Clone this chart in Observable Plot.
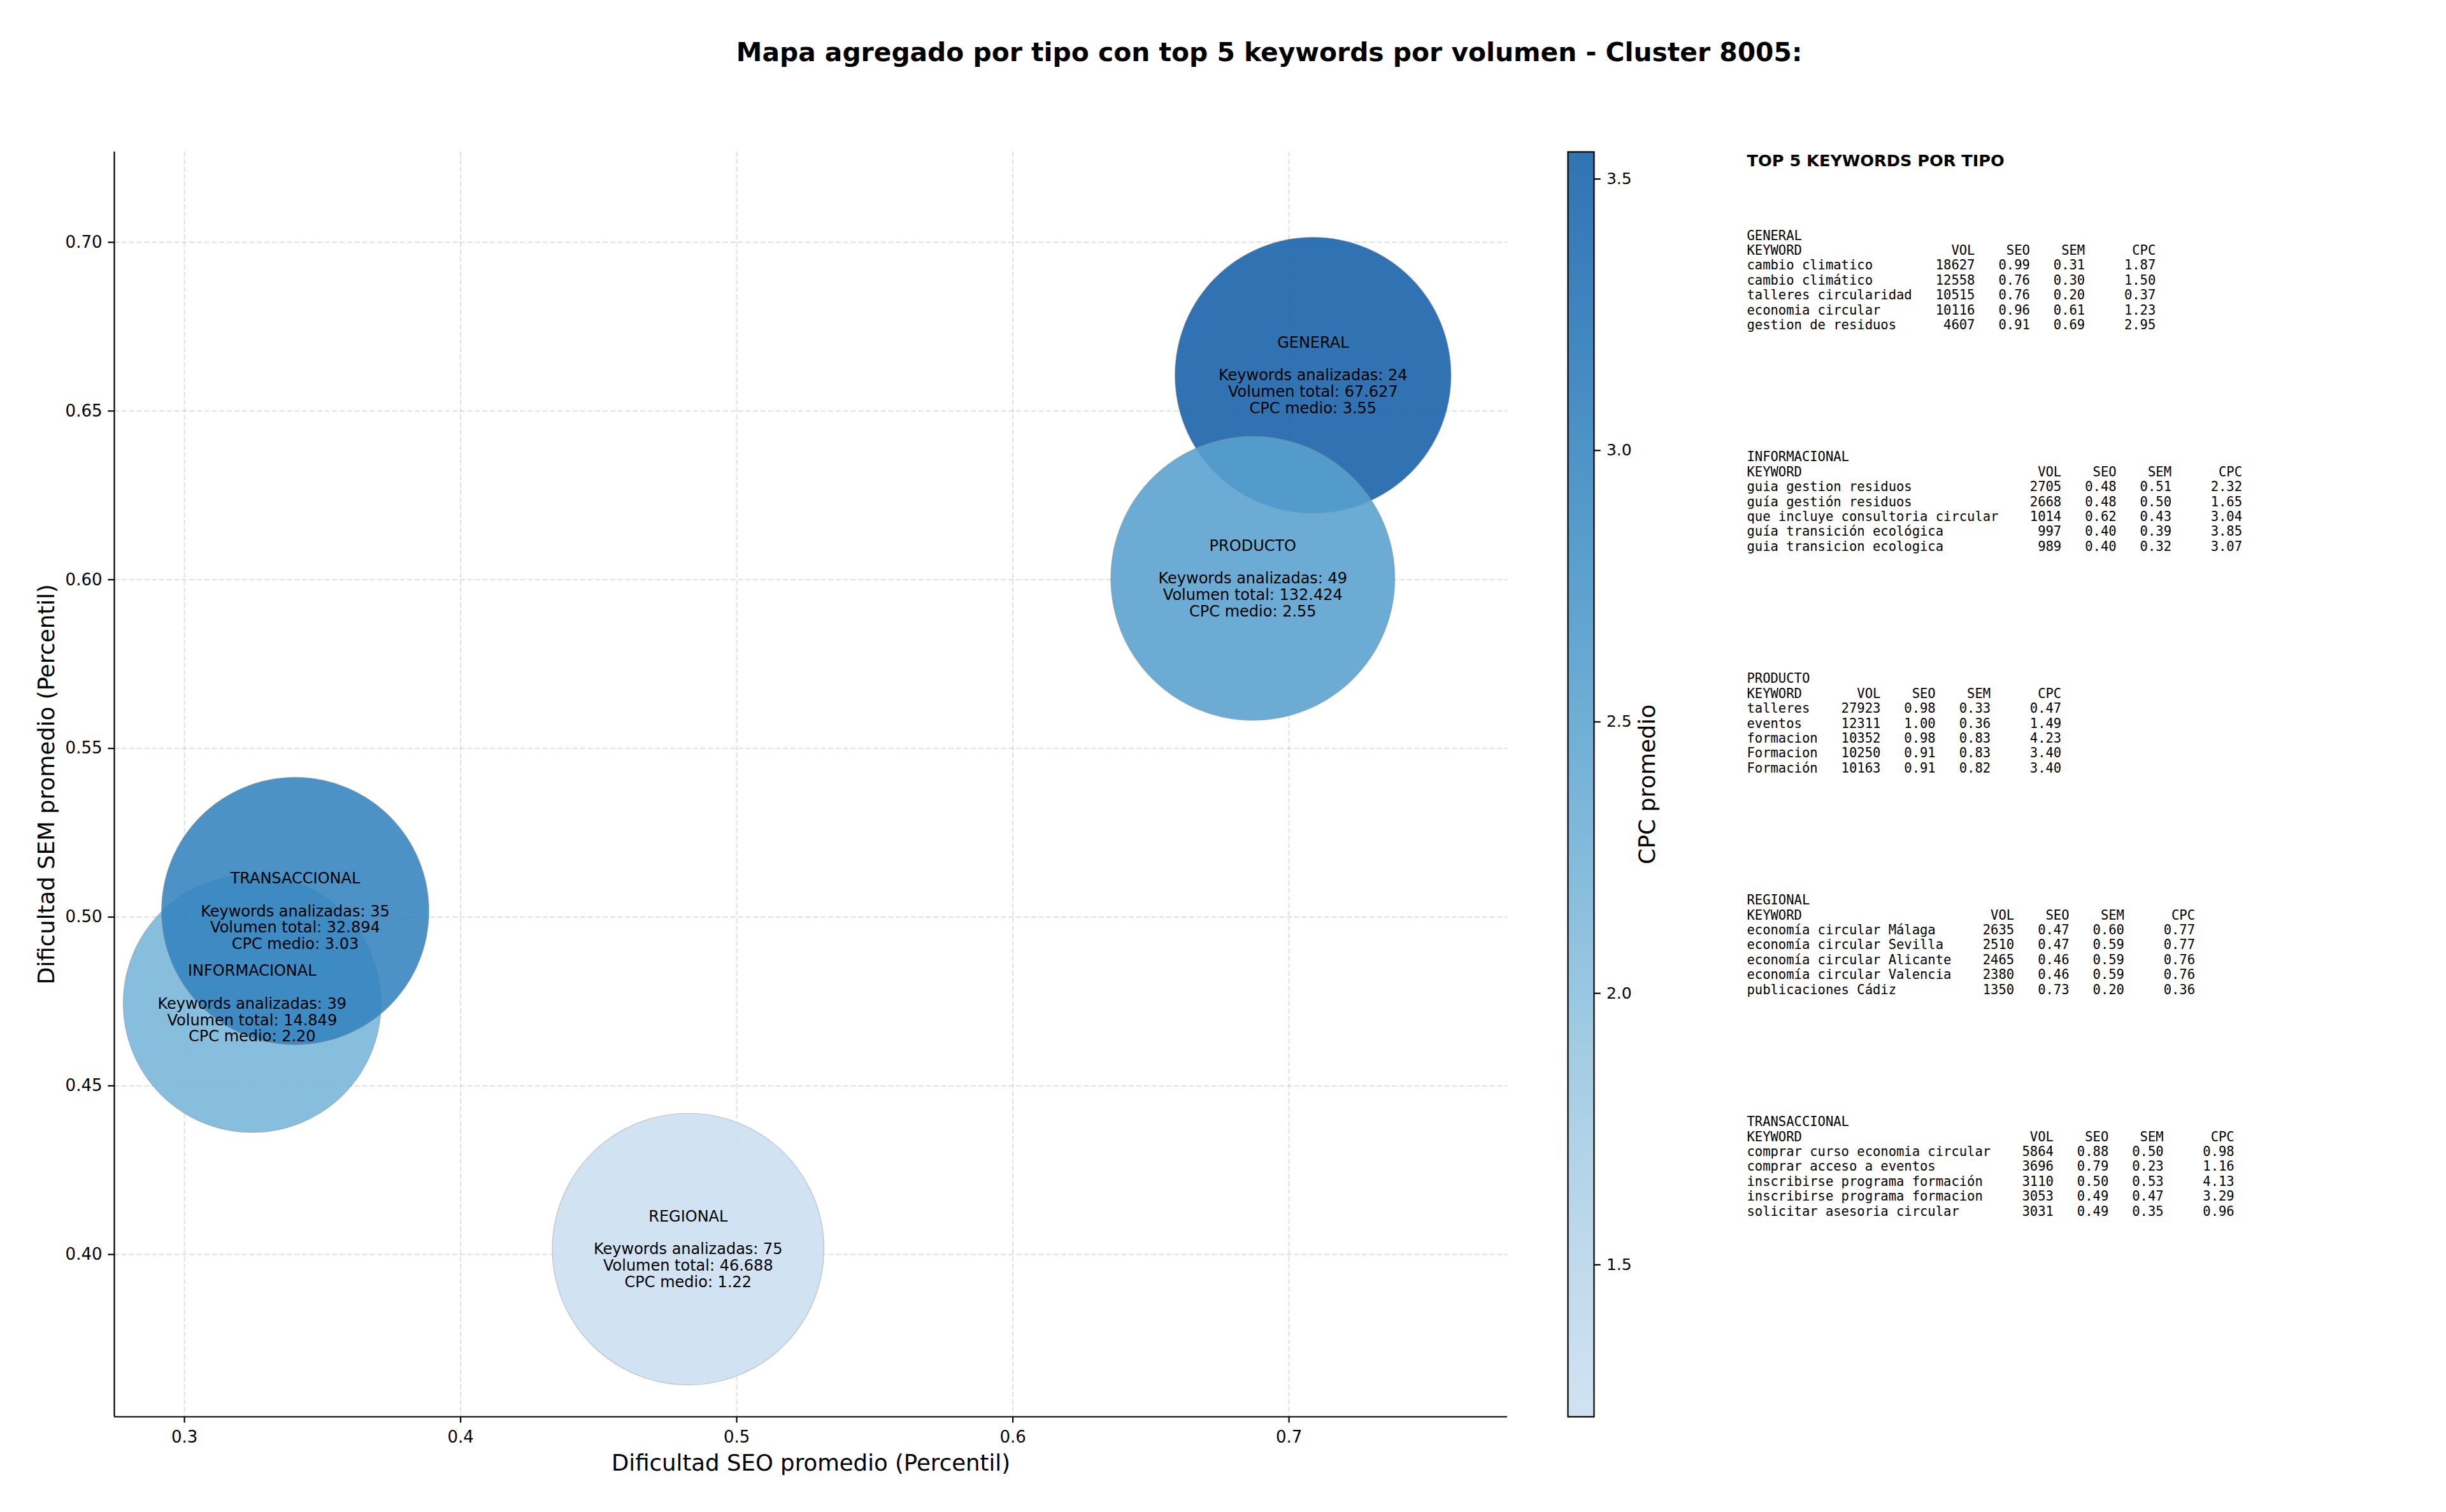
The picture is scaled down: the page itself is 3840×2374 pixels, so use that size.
<!DOCTYPE html>
<html>
<head>
<meta charset="utf-8">
<script src="https://cdn.jsdelivr.net/npm/d3@7"></script>
<script src="https://cdn.jsdelivr.net/npm/@observablehq/plot@0.6"></script>
<style>
  html, body { margin: 0; padding: 0; background: #ffffff; }
  #wrap { position: relative; width: 3840px; height: 2374px; background: #ffffff; overflow: hidden; }
  #wrap svg { position: absolute; top: 0; overflow: visible; }
  svg text, svg tspan { white-space: pre; }
</style>
</head>
<body>
<div id="wrap"></div>
<script>
// ---------- data ----------
const tipos      = ["GENERAL", "INFORMACIONAL", "PRODUCTO", "REGIONAL", "TRANSACCIONAL"];
const seoProm    = [0.7087, 0.3245, 0.6869, 0.4824, 0.3401];
const semProm    = [0.6606, 0.4744, 0.6004, 0.4016, 0.5018];
const cpcMedio   = [3.55, 2.20, 2.55, 1.22, 3.03];
const volTotal   = [67627, 14849, 132424, 46688, 32894];
const nKeywords  = [24, 39, 49, 75, 35];

const xTicks  = [0.3, 0.4, 0.5, 0.6, 0.7];
const yTicks  = [0.40, 0.45, 0.50, 0.55, 0.60, 0.65, 0.70];
const cbTicks = [1.5, 2.0, 2.5, 3.0, 3.5];

const topGeneral = [
  ["cambio climatico", 18627, 0.99, 0.31, 1.87],
  ["cambio climático", 12558, 0.76, 0.30, 1.50],
  ["talleres circularidad", 10515, 0.76, 0.20, 0.37],
  ["economia circular", 10116, 0.96, 0.61, 1.23],
  ["gestion de residuos", 4607, 0.91, 0.69, 2.95]
];
const topInformacional = [
  ["guia gestion residuos", 2705, 0.48, 0.51, 2.32],
  ["guía gestión residuos", 2668, 0.48, 0.50, 1.65],
  ["que incluye consultoria circular", 1014, 0.62, 0.43, 3.04],
  ["guía transición ecológica", 997, 0.40, 0.39, 3.85],
  ["guia transicion ecologica", 989, 0.40, 0.32, 3.07]
];
const topProducto = [
  ["talleres", 27923, 0.98, 0.33, 0.47],
  ["eventos", 12311, 1.00, 0.36, 1.49],
  ["formacion", 10352, 0.98, 0.83, 4.23],
  ["Formacion", 10250, 0.91, 0.83, 3.40],
  ["Formación", 10163, 0.91, 0.82, 3.40]
];
const topRegional = [
  ["economía circular Málaga", 2635, 0.47, 0.60, 0.77],
  ["economía circular Sevilla", 2510, 0.47, 0.59, 0.77],
  ["economía circular Alicante", 2465, 0.46, 0.59, 0.76],
  ["economía circular Valencia", 2380, 0.46, 0.59, 0.76],
  ["publicaciones Cádiz", 1350, 0.73, 0.20, 0.36]
];
const topTransaccional = [
  ["comprar curso economia circular", 5864, 0.88, 0.50, 0.98],
  ["comprar acceso a eventos", 3696, 0.79, 0.23, 1.16],
  ["inscribirse programa formación", 3110, 0.50, 0.53, 4.13],
  ["inscribirse programa formacion", 3053, 0.49, 0.47, 3.29],
  ["solicitar asesoria circular", 3031, 0.49, 0.35, 0.96]
];
const tablas = [topGeneral, topInformacional, topProducto, topRegional, topTransaccional];

const titulo = "Mapa agregado por tipo con top 5 keywords por volumen - Cluster 8005:";
const xLabel = "Dificultad SEO promedio (Percentil)";
const yLabel = "Dificultad SEM promedio (Percentil)";
const cLabel = "CPC promedio";
const panelTitulo = "TOP 5 KEYWORDS POR TIPO";

// ---------- derived ----------
const es = d3.formatLocale({decimal: ",", thousands: ".", grouping: [3], currency: ["", "€"]});
const fmtVol = es.format(",d");
const bubbles = tipos.map((t, i) => ({
  tipo: t, seo: seoProm[i], sem: semProm[i], cpc: cpcMedio[i], vol: volTotal[i], n: nKeywords[i],
  label: `${t}\n\nKeywords analizadas: ${nKeywords[i]}\nVolumen total: ${fmtVol(volTotal[i])}\nCPC medio: ${cpcMedio[i].toFixed(2)}`
}));

function blockText(tipo, rows) {
  const L = Math.max(7, ...rows.map(r => r[0].length));
  const line = (a, b, c, d, e) => a.padEnd(L) + b.padStart(8) + c.padStart(7) + d.padStart(7) + e.padStart(9);
  const out = [tipo, line("KEYWORD", "VOL", "SEO", "SEM", "CPC")];
  for (const r of rows) out.push(line(r[0], String(r[1]), r[2].toFixed(2), r[3].toFixed(2), r[4].toFixed(2)));
  return out.join("\n");
}

// ---------- layout (pixels) ----------
const W = 3840, H = 2374;
const fL = 179, fR = 2366, fT = 238, fB = 2224;
const xDom = [0.2746, 0.7791];
const yDom = [0.3519, 0.7268];
const cDom = [1.22, 3.55];
const alpha = 0.88;
const colorScale = {type: "linear", domain: cDom, interpolate: t => d3.interpolateBlues(0.22 + 0.595 * t)};

const tickFs = 26, cbTickFs = 25, labFs = 35.5, titFs = 40.8, bubFs = 24, monoFs = 20.5, panFs = 25.6;
const gridStyle = {stroke: "#b0b0b0", strokeOpacity: 0.35, strokeWidth: 2.2, strokeDasharray: "8.2,3.6"};

const panelX = 2742 - fL;
const blockMarks = tablas.map((rows, i) => Plot.text([blockText(tipos[i], rows)], {
  text: d => d, frameAnchor: "top-left", dx: panelX,
  dy: (374 + 347.9 * i) - 0.71 * monoFs - fT,
  textAnchor: "start", lineAnchor: "top", lineHeight: 23.4 / monoFs,
  fontFamily: "DejaVu Sans Mono", fontSize: monoFs, fill: "#000"
}));

const main = Plot.plot({
  width: W, height: H,
  marginLeft: fL, marginRight: W - fR, marginTop: fT, marginBottom: H - fB,
  style: {fontFamily: "DejaVu Sans", background: "transparent", color: "#000"},
  x: {domain: xDom},
  y: {domain: yDom},
  r: {type: "log", domain: [14849, 132424], range: [202.5, 223]},
  color: colorScale,
  marks: [
    Plot.gridX(xTicks, gridStyle),
    Plot.gridY(yTicks, gridStyle),
    Plot.dot(bubbles, {x: "seo", y: "sem", r: "vol", fill: "cpc", fillOpacity: alpha,
      stroke: "#8a8a8a", strokeOpacity: 0.45, strokeWidth: 1.2, sort: null}),
    Plot.text(bubbles, {x: "seo", y: "sem", text: "label", textAnchor: "middle", lineAnchor: "middle",
      lineHeight: 25.8 / bubFs, fontSize: bubFs, fill: "#000"}),
    Plot.ruleX([xDom[0]], {stroke: "#000", strokeWidth: 2.2}),
    Plot.ruleY([yDom[0]], {stroke: "#000", strokeWidth: 2.2}),
    Plot.axisX(xTicks, {tickFormat: d3.format(".1f"), tickSize: 9.7, tickPadding: 12, fontSize: tickFs, strokeWidth: 2.2, label: null}),
    Plot.axisY(yTicks, {tickFormat: d3.format(".2f"), tickSize: 9.7, tickPadding: 9.3, fontSize: tickFs, strokeWidth: 2.2, label: null}),
    Plot.text([xLabel], {text: d => d, frameAnchor: "bottom", dy: 2308 - fB, lineAnchor: "bottom", fontSize: labFs}),
    Plot.text([yLabel], {text: d => d, frameAnchor: "left", dx: 73 - fL, rotate: -90, textAnchor: "middle", lineAnchor: "middle", fontSize: labFs}),
    Plot.text([titulo], {text: d => d, frameAnchor: "top-left", dx: 1992 - fL, dy: 95 - fT, textAnchor: "middle", lineAnchor: "bottom", fontSize: titFs, fontWeight: "bold"}),
    Plot.text([panelTitulo], {text: d => d, frameAnchor: "top-left", dx: panelX, dy: 260 - fT, textAnchor: "start", lineAnchor: "bottom", fontSize: panFs, fontWeight: "bold"}),
    ...blockMarks
  ]
});
main.style.left = "0px";
document.getElementById("wrap").appendChild(main);

// ---------- colorbar ----------
const cbLeft = 2400, cbX0 = 2461, cbX1 = 2502, cbW = 400;
const cbar = Plot.plot({
  width: cbW, height: H,
  marginLeft: cbX0 - cbLeft, marginRight: cbW - (cbX1 - cbLeft), marginTop: fT, marginBottom: H - fB,
  style: {fontFamily: "DejaVu Sans", background: "transparent", color: "#000"},
  x: {domain: [0, 1], axis: null},
  y: {domain: cDom, axis: null},
  color: colorScale,
  marks: [
    Plot.raster({fill: (x, y) => y, x1: 0, x2: 1, y1: cDom[0], y2: cDom[1], opacity: alpha}),
    Plot.frame({stroke: "#000", strokeWidth: 2.2}),
    Plot.axisY(cbTicks, {anchor: "right", tickFormat: d3.format(".1f"), tickSize: 9.7, tickPadding: 9.7, fontSize: cbTickFs, strokeWidth: 2.2, label: null}),
    Plot.text([cLabel], {text: d => d, frameAnchor: "right", dx: 2586 - cbX1, rotate: -90, textAnchor: "middle", lineAnchor: "middle", fontSize: labFs})
  ]
});
cbar.style.left = cbLeft + "px";
document.getElementById("wrap").appendChild(cbar);
</script>
</body>
</html>
